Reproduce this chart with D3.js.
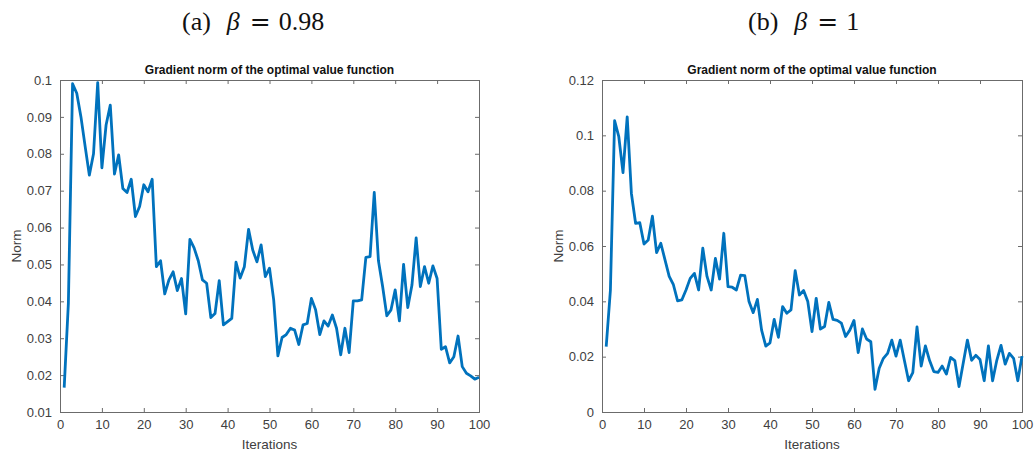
<!DOCTYPE html>
<html>
<head>
<meta charset="utf-8">
<script src="https://cdn.jsdelivr.net/npm/d3@7"></script>
<style>
  body { margin: 0; background: #fff; }
  svg { display: block; }
</style>
</head>
<body>
<div id="page"></div>
<script>
// iterations 1..100
const iterations = d3.range(1, 101);

// (a) beta = 0.98
const normA = [
  0.0166, 0.0395, 0.0990, 0.0964, 0.0900, 0.0820, 0.0742, 0.0800, 0.0993, 0.0762,
  0.0878, 0.0932, 0.0745, 0.0797, 0.0706, 0.0695, 0.0731, 0.0630, 0.0657, 0.0716,
  0.0697, 0.0731, 0.0494, 0.0510, 0.0420, 0.0458, 0.0480, 0.0429, 0.0462, 0.0366,
  0.0568, 0.0545, 0.0510, 0.0458, 0.0449, 0.0356, 0.0367, 0.0456, 0.0336, 0.0345,
  0.0354, 0.0506, 0.0463, 0.0494, 0.0595, 0.0539, 0.0507, 0.0553, 0.0467, 0.0490,
  0.0404, 0.0252, 0.0302, 0.0310, 0.0327, 0.0322, 0.0283, 0.0336, 0.0340, 0.0408,
  0.0377, 0.0310, 0.0347, 0.0333, 0.0363, 0.0327, 0.0255, 0.0327, 0.0261, 0.0401,
  0.0401, 0.0404, 0.0519, 0.0521, 0.0695, 0.0510, 0.0440, 0.0361, 0.0377, 0.0431,
  0.0347, 0.0500, 0.0383, 0.0444, 0.0572, 0.0440, 0.0494, 0.0449, 0.0496, 0.0462,
  0.0270, 0.0277, 0.0233, 0.0250, 0.0306, 0.0223, 0.0205, 0.0198, 0.0189, 0.0194
];

// (b) beta = 1
const normB = [
  0.0236, 0.0440, 0.1053, 0.0995, 0.0865, 0.1067, 0.0790, 0.0682, 0.0684, 0.0607,
  0.0622, 0.0708, 0.0576, 0.0610, 0.0550, 0.0490, 0.0460, 0.0402, 0.0405, 0.0441,
  0.0483, 0.0501, 0.0441, 0.0592, 0.0490, 0.0441, 0.0555, 0.0480, 0.0646, 0.0453,
  0.0451, 0.0441, 0.0495, 0.0493, 0.0399, 0.0359, 0.0407, 0.0296, 0.0238, 0.0250,
  0.0335, 0.0270, 0.0381, 0.0357, 0.0369, 0.0511, 0.0423, 0.0439, 0.0399, 0.0291,
  0.0411, 0.0300, 0.0309, 0.0396, 0.0335, 0.0331, 0.0321, 0.0273, 0.0296, 0.0331,
  0.0215, 0.0300, 0.0264, 0.0254, 0.0082, 0.0158, 0.0194, 0.0212, 0.0260, 0.0202,
  0.0260, 0.0186, 0.0113, 0.0142, 0.0308, 0.0166, 0.0239, 0.0186, 0.0146, 0.0143,
  0.0166, 0.0137, 0.0197, 0.0186, 0.0092, 0.0176, 0.0260, 0.0187, 0.0205, 0.0190,
  0.0113, 0.0239, 0.0113, 0.0187, 0.0241, 0.0173, 0.0212, 0.0194, 0.0113, 0.0202
];

const xTicks = [0, 10, 20, 30, 40, 50, 60, 70, 80, 90, 100];
const yTicksA = [0.01, 0.02, 0.03, 0.04, 0.05, 0.06, 0.07, 0.08, 0.09, 0.1];
const yTicksB = [0, 0.02, 0.04, 0.06, 0.08, 0.1, 0.12];

const panels = [
  { caption: 'a', beta: '0.98', values: normA, yDomain: [0.01, 0.1], yTicks: yTicksA, left: 60, right: 479, capX: 182 },
  { caption: 'b', beta: '1', values: normB, yDomain: [0, 0.12], yTicks: yTicksB, left: 602, right: 1022, capX: 748 }
];

const width = 1035;
const height = 456;
const plotTop = 80;
const plotBottom = 412;
const lineColor = '#0072bd';
const axisColor = '#6b6b6b';
const labelColor = '#404040';
const fontSans = '"Liberation Sans", Arial, sans-serif';
const tickLen = 4;

const svg = d3.select('#page')
              .append('svg')
              .attr('width', width)
              .attr('height', height);

panels.forEach(p => {
    const x = d3.scaleLinear().domain([0, 100]).range([p.left, p.right]);
    const y = d3.scaleLinear().domain(p.yDomain).range([plotBottom, plotTop]);
    const cx = (p.left + p.right) / 2;

    // sub-figure caption, e.g. (a) beta = 0.98
    const cap = svg.append('text')
                   .attr('x', p.capX)
                   .attr('y', 30)
                   .style('font-family', '"Liberation Serif", "Times New Roman", serif')
                   .style('font-size', '26px')
                   .attr('fill', '#111');
    cap.append('tspan').text(`(${p.caption})`);
    cap.append('tspan').attr('dx', 16).style('font-style', 'italic').text('β');
    cap.append('tspan').attr('dx', 10).style('font-family', '"DejaVu Serif", serif').style('font-size', '25px').text('=');
    cap.append('tspan').attr('dx', 8).text(p.beta);

    // title
    svg.append('text')
       .attr('x', cx)
       .attr('y', 74)
       .attr('text-anchor', 'middle')
       .style('font-family', fontSans)
       .style('font-size', '12px')
       .style('font-weight', 'bold')
       .attr('fill', '#111')
       .text('Gradient norm of the optimal value function');

    const g = svg.append('g')
                 .style('font-family', fontSans)
                 .style('font-size', '13px');

    // inward ticks on all four sides (MATLAB box)
    const bottomAxis = d3.axisBottom(x).tickValues(xTicks).tickSize(-tickLen).tickPadding(8).tickFormat(d3.format('d'));
    const topAxis = d3.axisTop(x).tickValues(xTicks).tickSize(-tickLen).tickFormat('');
    const leftAxis = d3.axisLeft(y).tickValues(p.yTicks).tickSize(-tickLen).tickPadding(8).tickFormat(d => String(+d.toFixed(2)));
    const rightAxis = d3.axisRight(y).tickValues(p.yTicks).tickSize(-tickLen).tickFormat('');

    [
      [bottomAxis, `translate(0,${plotBottom})`],
      [topAxis, `translate(0,${plotTop})`],
      [leftAxis, `translate(${p.left},0)`],
      [rightAxis, `translate(${p.right},0)`]
    ].forEach(([ax, tr]) => {
        const a = g.append('g').attr('transform', tr).call(ax)
                   .attr('font-size', 13)
                   .attr('font-family', fontSans);
        a.select('.domain').attr('stroke', axisColor).attr('stroke-width', 1);
        a.selectAll('.tick line').attr('stroke', axisColor);
        a.selectAll('.tick text').attr('fill', labelColor);
    });

    const line = d3.line()
                   .x((d, i) => x(iterations[i]))
                   .y(d => y(d));

    g.append('path')
     .datum(p.values)
     .attr('d', line)
     .attr('fill', 'none')
     .attr('stroke', lineColor)
     .attr('stroke-width', 2.8)
     .attr('stroke-linejoin', 'round');

    g.append('text')
     .attr('x', cx)
     .attr('y', 449)
     .attr('text-anchor', 'middle')
     .attr('fill', labelColor)
     .style('font-size', '13.5px')
     .text('Iterations');

    g.append('text')
     .attr('transform', `translate(${p.left - 39},${(plotTop + plotBottom) / 2}) rotate(-90)`)
     .attr('text-anchor', 'middle')
     .attr('fill', labelColor)
     .style('font-size', '13.5px')
     .text('Norm');
});
</script>
</body>
</html>
